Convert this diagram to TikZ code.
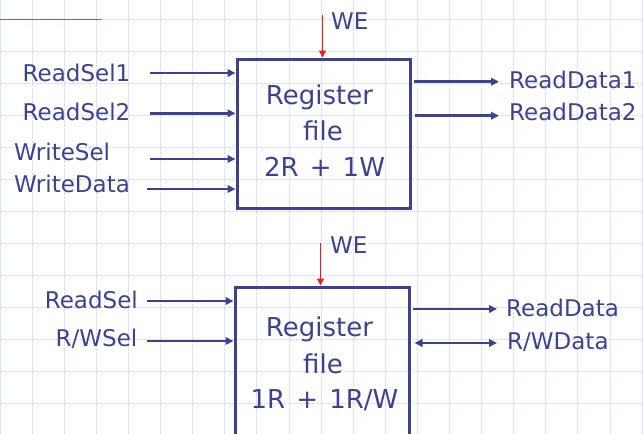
\documentclass[tikz,border=0pt]{standalone}
\usepackage{fontspec}
\setmainfont{DejaVu Sans}
\usetikzlibrary{arrows.meta}
\definecolor{navy}{RGB}{62,66,142}
\definecolor{gridc}{RGB}{214,221,250}
\definecolor{topline}{RGB}{96,108,204}
\definecolor{wered}{RGB}{236,28,36}
\newcommand{\bsp}{\hspace{0.43em}}
\begin{document}
\begin{tikzpicture}[x=1pt,y=-1pt,
  lbl/.style={text=navy,font=\fontsize{23}{23}\selectfont,inner sep=0pt},
  boxtxt/.style={text=navy,font=\fontsize{26}{26}\selectfont,inner sep=0pt,anchor=base},
  regbox/.style={draw=navy,line width=3pt,inner sep=0pt,fill=none},
  sig/.style={draw=navy,line width=2.8pt,-{Triangle[length=8pt,width=7.5pt]}},
  bisig/.style={draw=navy,line width=2.8pt,{Triangle[length=8pt,width=7.5pt]}-{Triangle[length=8pt,width=7.5pt]}},
  weline/.style={draw=wered,line width=1.4pt,-{Triangle[length=7pt,width=7pt]}},
  gridline/.style={draw=gridc,line width=0.7pt,dash pattern=on 2.5pt off 1.5pt},
]
\useasboundingbox (0,0) rectangle (643,434);
\clip (0,0) rectangle (643,434);
\fill[white] (0,0) rectangle (643,434);
% grid
\foreach \i in {0,...,20} { \draw[gridline] (32.1*\i,0) -- (32.1*\i,434); }
\foreach \j in {0,...,13} { \draw[gridline] (0,19+32*\j) -- (643,19+32*\j); }
\coordinate (tl0) at (0,19);
\coordinate (tl1) at (102,19);
\draw[topline,line width=1pt] (tl0) -- (tl1);

% ---------- Register file 1 ----------
\node[regbox,minimum width=173pt,minimum height=149pt] (rf1) at (323.5,133.5) {};
\node[boxtxt] (rf1a) at (319.5,104) {Register};
\node[boxtxt] (rf1b) at (323,140) {file};
\node[boxtxt] (rf1c) at (324.5,176.5) {2R\bsp+\bsp1W};

\coordinate (we1) at (322.5,15);
\draw[weline] (we1) -- (we1 |- rf1.north);
\node[lbl,anchor=base west] (we1t) at (331,29.3) {WE};

\coordinate (rs1) at (150,73);
\coordinate (rs2) at (150,113.3);
\coordinate (ws) at (150,159);
\coordinate (wd) at (147,189);
\draw[sig] (rs1) -- (rs1 -| rf1.west);
\draw[sig] (rs2) -- (rs2 -| rf1.west);
\draw[sig] (ws) -- (ws -| rf1.west);
\draw[sig] (wd) -- (wd -| rf1.west);
\node[lbl,anchor=base east] (rs1t) at (130.5,81) {ReadSel1};
\node[lbl,anchor=base east] (rs2t) at (130.5,120.3) {ReadSel2};
\node[lbl,anchor=base west] (wst) at (14,160.7) {WriteSel};
\node[lbl,anchor=base west] (wdt) at (14,192) {WriteData};

\coordinate (rd1) at (499,81.7);
\coordinate (rd2) at (499,115.7);
\draw[sig] (rd1 -| rf1.east) ++(2.5,0) coordinate (rd1s) -- (rd1);
\draw[sig] (rd2 -| rf1.east) ++(3.5,0) coordinate (rd2s) -- (rd2);
\node[lbl,anchor=base west] (rd1t) at (509,88.3) {ReadData1};
\node[lbl,anchor=base west] (rd2t) at (509,120.7) {ReadData2};

% ---------- Register file 2 ----------
\node[regbox,minimum width=174pt,minimum height=180pt] (rf2) at (322,377) {};
\node[boxtxt] (rf2a) at (319.5,336) {Register};
\node[boxtxt] (rf2b) at (323,373) {file};
\node[boxtxt] (rf2c) at (324.5,408) {1R\bsp+\bsp1R/W};

\coordinate (we2) at (320.5,243);
\draw[weline] (we2) -- (we2 |- rf2.north);
\node[lbl,anchor=base west] (we2t) at (330,253.3) {WE};

\coordinate (rs) at (147,301);
\coordinate (rws) at (147,341);
\draw[sig] (rs) -- (rs -| rf2.west);
\draw[sig] (rws) -- (rws -| rf2.west);
\node[lbl,anchor=base east] (rst) at (138,308.3) {ReadSel};
\node[lbl,anchor=base east] (rwst) at (137.5,346.7) {R/WSel};

\coordinate (rd) at (497,309);
\coordinate (rwd) at (497,343);
\draw[sig] (rd -| rf2.east) ++(2.5,0) coordinate (rds) -- (rd);
\draw[bisig] (rwd -| rf2.east) ++(4,0) coordinate (rwds) -- (rwd);
\node[lbl,anchor=base west] (rdt) at (506,316.7) {ReadData};
\node[lbl,anchor=base west] (rwdt) at (507,349) {R/WData};
\end{tikzpicture}
\end{document}
